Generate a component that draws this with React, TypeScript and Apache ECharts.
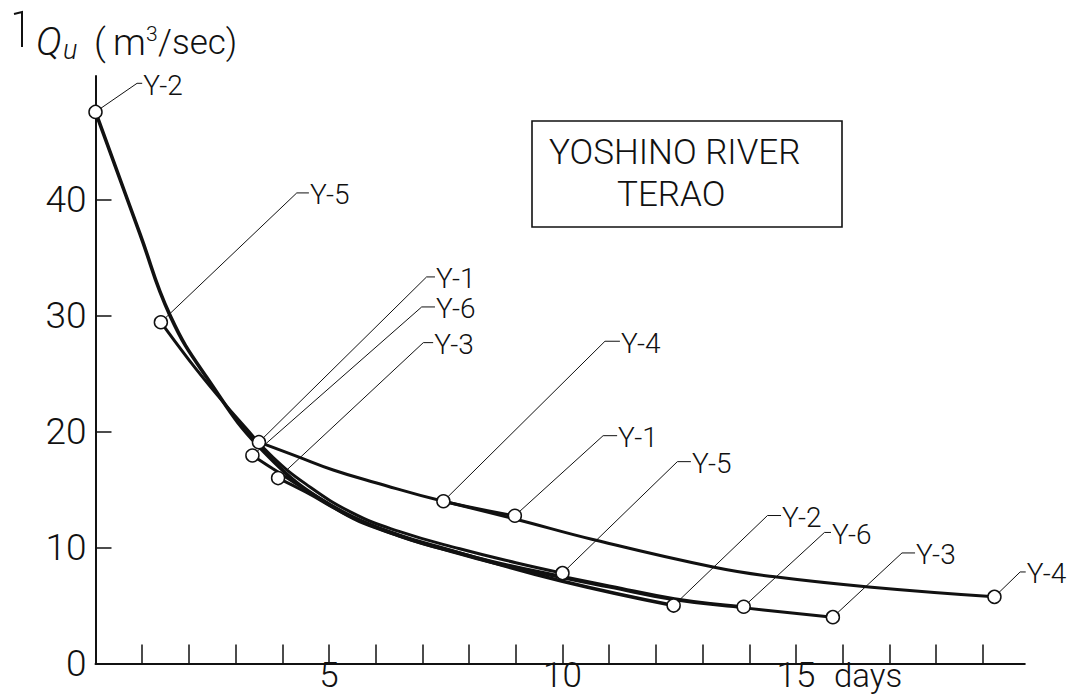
import React, { useEffect, useRef } from "react";
import * as echarts from "echarts";

// ---- axis ticks / labels ----
const dayTicks = [1, 2, 3, 4, 5, 6, 7, 8, 9, 10, 11, 12, 13, 14, 15, 16, 17, 18, 19];
const dayLabels = [5, 10, 15];
const quTicks = [10, 20, 30, 40];
const quLabels = [0, 10, 20, 30, 40];

// ---- recession curves: [day, Qu (m3/sec)] ----
const curveY2 = [
  [0, 47.6], [0.95, 37.1], [1.6, 30.0], [2.38, 24.7], [3.6, 18.3], [5.09, 13.5],
  [6.52, 11.0], [8.0, 9.3], [10.0, 7.1], [12.38, 5.0],
];
const curveY5 = [
  [1.4, 29.45], [2.0, 26.2], [2.6, 23.2], [3.2, 20.4], [3.8, 17.8], [4.5, 15.5],
  [5.5, 13.0], [6.5, 11.4], [7.8, 9.9], [9.0, 8.7], [10.0, 7.8],
];
const curveY6 = [
  [3.36, 17.95], [3.8, 16.8], [4.5, 15.0], [5.5, 12.7], [6.5, 11.1], [7.5, 9.9],
  [8.5, 8.8], [10.0, 7.5], [11.0, 6.7], [12.4, 5.6], [13.88, 4.9],
];
const curveY3 = [
  [3.91, 16.0], [4.5, 14.8], [5.5, 12.6], [6.5, 11.0], [7.5, 9.8], [8.5, 8.7],
  [10.0, 7.4], [11.0, 6.6], [12.4, 5.5], [13.9, 4.8], [15.79, 4.0],
];
const curveY1 = [
  [3.5, 19.1], [4.3, 17.9], [5.09, 16.7], [6.0, 15.6], [7.45, 14.0], [8.98, 12.75],
];
const curveY4 = [
  [7.45, 14.0], [9.0, 12.45], [10.65, 10.7], [13.25, 8.3], [14.5, 7.5], [16.56, 6.6], [19.25, 5.75],
];

const curveNames = ["Y-2", "Y-5", "Y-6", "Y-3", "Y-1", "Y-4"];
const curves = [curveY2, curveY5, curveY6, curveY3, curveY1, curveY4];

// ---- label annotations: which end of which curve, leader bend, leader end ----
const labelCurve = ["Y-2", "Y-5", "Y-1", "Y-6", "Y-3", "Y-4", "Y-1", "Y-5", "Y-2", "Y-6", "Y-3", "Y-4"];
const labelEnd = ["first", "first", "first", "first", "first", "first", "last", "last", "last", "last", "last", "last"];
const labelBend = [
  [0.89, 50.07], [4.31, 40.61], [7.09, 33.36], [6.985, 30.77], [7.02, 27.69], [10.91, 27.81],
  [10.87, 19.66], [12.46, 17.42], [14.39, 12.77], [15.61, 11.31], [17.27, 9.54], [19.8, 7.9],
];
const labelStub = [
  [1.0, 50.07], [4.57, 40.61], [7.27, 33.36], [7.27, 30.77], [7.23, 27.69], [11.23, 27.81],
  [11.17, 19.66], [12.75, 17.42], [14.68, 12.77], [15.75, 11.31], [17.55, 9.54], [19.92, 7.9],
];

const FONT = "Roboto, 'Liberation Sans', sans-serif";
const INK = "#111";

export default function App() {
  const ref = useRef<HTMLDivElement>(null);

  useEffect(() => {
    const chart = echarts.init(ref.current!, null, { renderer: "svg" });

    const curveSeries = curves.map((data, i) => ({
      type: "line",
      name: curveNames[i],
      data,
      smooth: 0.45,
      showSymbol: false,
      symbol: "none",
      silent: true,
      z: 2,
      lineStyle: { color: INK, width: curveNames[i] === "Y-2" ? 3.6 : 3 },
    }));

    const leaderSeries = labelCurve.map((name, i) => {
      const c = curves[curveNames.indexOf(name)];
      const p = labelEnd[i] === "first" ? c[0] : c[c.length - 1];
      return {
        type: "line",
        name: name + "#" + i,
        data: [p, labelBend[i], labelStub[i]],
        symbol: "none",
        showSymbol: false,
        silent: true,
        clip: false,
        z: 3,
        lineStyle: { color: INK, width: 1 },
        endLabel: {
          show: true,
          formatter: () => name,
          distance: 1,
          offset: [0, 2],
          fontFamily: FONT,
          fontWeight: 300,
          fontSize: 28,
          lineHeight: 24,
          color: INK,
        },
      };
    });

    const endPoints = curves.flatMap((c) => [c[0], c[c.length - 1]]);

    const option: any = {
      animation: false,
      backgroundColor: "#fff",
      grid: { left: 95.5, right: 59.2, top: 76, bottom: 33.5, containLabel: false },
      xAxis: {
        type: "value",
        min: 0,
        max: 19.9,
        interval: 1,
        splitLine: { show: false },
        axisLine: { show: true, lineStyle: { color: INK, width: 2 } },
        axisTick: {
          show: true,
          inside: true,
          length: 19,
          customValues: dayTicks,
          lineStyle: { color: INK, width: 1.5 },
        },
        axisLabel: {
          show: true,
          customValues: dayLabels,
          margin: 0,
          fontFamily: FONT,
          fontWeight: 300,
          fontSize: 35,
          lineHeight: 24,
          color: INK,
        },
      },
      yAxis: {
        type: "value",
        min: 0,
        max: 50.7,
        interval: 10,
        splitLine: { show: false },
        axisLine: { show: true, lineStyle: { color: INK, width: 2 } },
        axisTick: {
          show: true,
          inside: true,
          length: 16,
          customValues: quTicks,
          lineStyle: { color: INK, width: 1.5 },
        },
        axisLabel: {
          show: true,
          customValues: quLabels,
          margin: 9,
          fontFamily: FONT,
          fontWeight: 300,
          fontSize: 37,
          lineHeight: 30,
          color: INK,
        },
      },
      series: [
        ...curveSeries,
        ...leaderSeries,
        {
          type: "scatter",
          name: "points",
          data: endPoints,
          symbol: "circle",
          symbolSize: 13,
          silent: true,
          clip: false,
          z: 5,
          itemStyle: { color: "#fff", borderColor: INK, borderWidth: 1.5, opacity: 1 },
        },
      ],
    };

    chart.setOption(option);

    const p15 = chart.convertToPixel({ gridIndex: 0 }, [15, 0]) as number[];

    chart.setOption({
      graphic: [
        // hook mark at top-left
        {
          type: "polyline",
          shape: { points: [[14, 14], [22, 12], [22, 47]] },
          style: { stroke: INK, lineWidth: 2, fill: "none" },
        },
        // axis title Qu ( m3/sec)
        {
          type: "text",
          x: 36,
          y: 42,
          style: { text: "Q", font: `italic 300 39px ${FONT}`, lineHeight: 30, fill: INK, textVerticalAlign: "middle" },
        },
        {
          type: "text",
          x: 63,
          y: 50,
          style: { text: "u", font: `italic 300 27px ${FONT}`, lineHeight: 20, fill: INK, textVerticalAlign: "middle" },
        },
        {
          type: "text",
          x: 94,
          y: 42,
          style: { text: "(", font: `300 37px ${FONT}`, lineHeight: 30, fill: INK, textVerticalAlign: "middle" },
        },
        {
          type: "text",
          x: 113,
          y: 42,
          style: { text: "m", font: `300 37px ${FONT}`, lineHeight: 30, fill: INK, textVerticalAlign: "middle" },
        },
        {
          type: "text",
          x: 146,
          y: 34,
          style: { text: "3", font: `300 21px ${FONT}`, lineHeight: 16, fill: INK, textVerticalAlign: "middle" },
        },
        {
          type: "text",
          x: 158,
          y: 42,
          style: { text: "/sec)", font: `300 35px ${FONT}`, lineHeight: 30, fill: INK, textVerticalAlign: "middle" },
        },
        // "days" next to 15
        {
          type: "text",
          x: p15[0] + 38,
          y: p15[1] + 12,
          style: { text: "days", font: `300 33px ${FONT}`, lineHeight: 24, fill: INK, textVerticalAlign: "middle" },
        },
        // station box
        {
          type: "rect",
          shape: { x: 532, y: 121, width: 310, height: 106 },
          style: { fill: "none", stroke: INK, lineWidth: 1.6 },
        },
        {
          type: "text",
          x: 549,
          y: 152.5,
          style: { text: "YOSHINO RIVER", font: `300 35px ${FONT}`, lineHeight: 28, fill: INK, textVerticalAlign: "middle" },
        },
        {
          type: "text",
          x: 617,
          y: 194,
          style: { text: "TERAO", font: `300 35px ${FONT}`, lineHeight: 28, fill: INK, textVerticalAlign: "middle" },
        },
      ],
    });

    return () => chart.dispose();
  }, []);

  return (
    <div
      ref={ref}
      style={{ position: "fixed", left: 0, top: 0, width: 1084, height: 697, background: "#fff" }}
    />
  );
}
